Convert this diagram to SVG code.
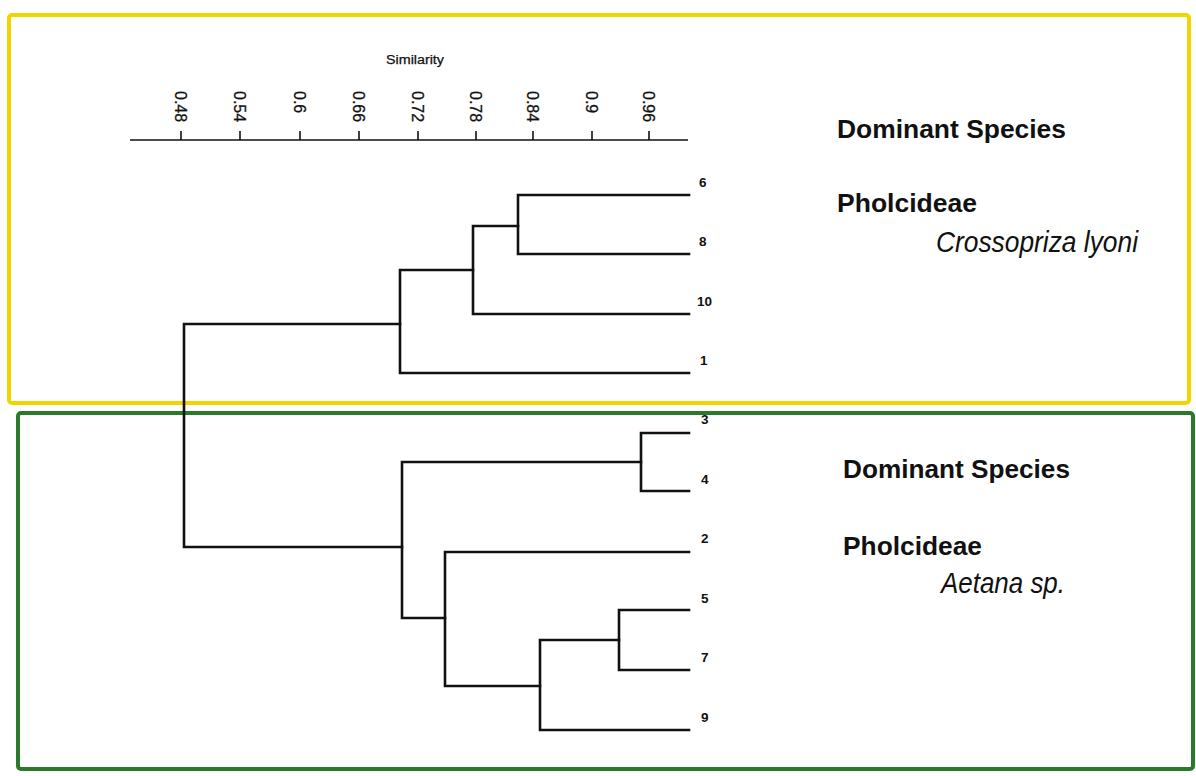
<svg xmlns="http://www.w3.org/2000/svg" width="1196" height="776" viewBox="0 0 1196 776">
<style>
.frame{fill:none;stroke-width:4;stroke-linejoin:round}
.br{fill:none;stroke:#111;stroke-width:2.6;stroke-linecap:square}
.tick{font-family:"Liberation Sans",Arial,sans-serif;font-size:16px;fill:#111;stroke:#111;stroke-width:0.3}
.leaf{font-family:"Liberation Sans",Arial,sans-serif;font-size:13.5px;font-weight:bold;fill:#111}
.hd{font-family:"Liberation Sans",Arial,sans-serif;font-size:26px;font-weight:bold;fill:#111}
.sp{font-family:"Liberation Sans",Arial,sans-serif;font-size:30px;font-style:italic;fill:#111}
</style>
<rect width="1196" height="776" fill="#fff"/>
<g id="cluster-top">
<rect class="frame" x="9" y="15" width="1180" height="388" rx="3" stroke="#f2d400"/>
<text class="hd" x="837" y="138" textLength="229" lengthAdjust="spacingAndGlyphs">Dominant Species</text>
<text class="hd" x="837" y="212" textLength="140" lengthAdjust="spacingAndGlyphs">Pholcideae</text>
<text class="sp" x="936" y="252" textLength="202" lengthAdjust="spacingAndGlyphs">Crossopriza lyoni</text>
</g>
<g id="cluster-bottom">
<rect class="frame" x="18" y="413" width="1175" height="356" rx="3" stroke="#2b7a2b"/>
<text class="hd" x="843" y="478" textLength="227" lengthAdjust="spacingAndGlyphs">Dominant Species</text>
<text class="hd" x="843" y="555" textLength="139" lengthAdjust="spacingAndGlyphs">Pholcideae</text>
<text class="sp" x="941" y="593" textLength="124" lengthAdjust="spacingAndGlyphs">Aetana sp.</text>
</g>
<g id="axis">
<text x="415" y="64" text-anchor="middle" font-family="Liberation Sans,Arial,sans-serif" font-size="12.5" fill="#111" stroke="#111" stroke-width="0.25" textLength="58" lengthAdjust="spacingAndGlyphs">Similarity</text>
<line x1="130" y1="140" x2="688" y2="140" stroke="#111" stroke-width="1.6"/>
<g stroke="#111" stroke-width="1.6">
<line x1="181" y1="131" x2="181" y2="140"/>
<line x1="240" y1="131" x2="240" y2="140"/>
<line x1="300" y1="131" x2="300" y2="140"/>
<line x1="359" y1="131" x2="359" y2="140"/>
<line x1="418" y1="131" x2="418" y2="140"/>
<line x1="476" y1="131" x2="476" y2="140"/>
<line x1="533" y1="131" x2="533" y2="140"/>
<line x1="592" y1="131" x2="592" y2="140"/>
<line x1="649" y1="131" x2="649" y2="140"/>
</g>
<text class="tick" transform="translate(175,91) rotate(90)">0.48</text>
<text class="tick" transform="translate(234,91) rotate(90)">0.54</text>
<text class="tick" transform="translate(294,91) rotate(90)">0.6</text>
<text class="tick" transform="translate(353,91) rotate(90)">0.66</text>
<text class="tick" transform="translate(412,91) rotate(90)">0.72</text>
<text class="tick" transform="translate(470,91) rotate(90)">0.78</text>
<text class="tick" transform="translate(527,91) rotate(90)">0.84</text>
<text class="tick" transform="translate(586,91) rotate(90)">0.9</text>
<text class="tick" transform="translate(643,91) rotate(90)">0.96</text>
</g>
<g id="connectors">
<path class="br" d="M689,195 H518 V254 H689"/>
<path class="br" d="M518,226 H473 V314 H689"/>
<path class="br" d="M473,270 H400 V373 H689"/>
<path class="br" d="M400,324 H184 V547 H402"/>
<path class="br" d="M689,433 H641 V491 H689"/>
<path class="br" d="M641,462 H402 V618 H445"/>
<path class="br" d="M689,552 H445 V686 H540"/>
<path class="br" d="M689,610 H619 V670 H689"/>
<path class="br" d="M619,640 H540 V730 H689"/>
</g>
<g id="leaves">
<text class="leaf" x="699" y="187">6</text>
<text class="leaf" x="699" y="246">8</text>
<text class="leaf" x="697" y="306">10</text>
<text class="leaf" x="700" y="365">1</text>
<text class="leaf" x="701" y="424">3</text>
<text class="leaf" x="701" y="484">4</text>
<text class="leaf" x="701" y="543">2</text>
<text class="leaf" x="701" y="603">5</text>
<text class="leaf" x="701" y="662">7</text>
<text class="leaf" x="701" y="722">9</text>
</g>
</svg>
